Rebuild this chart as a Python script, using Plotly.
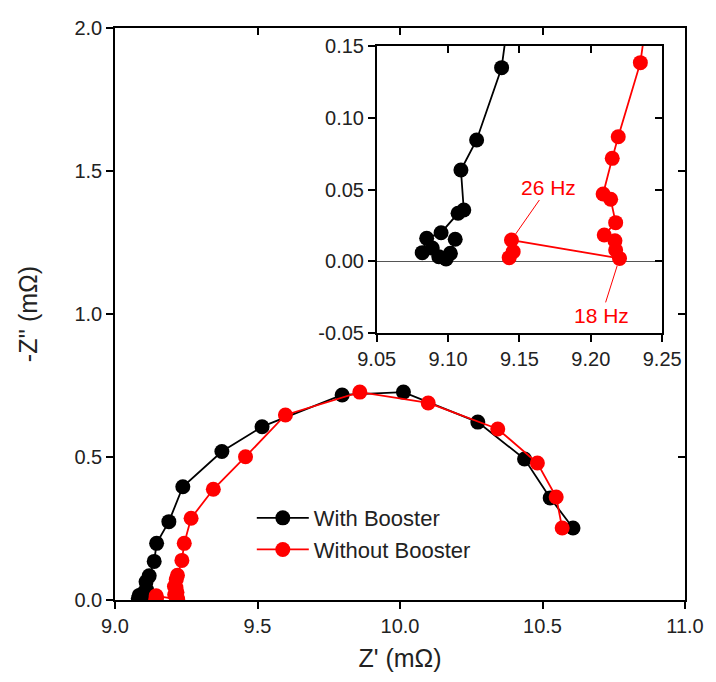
import plotly.graph_objects as go

# ---- data (Z' in mOhm, -Z'' in mOhm) ----
with_x = [9.105, 9.1016, 9.0986, 9.0935, 9.0889, 9.0819, 9.085, 9.0951, 9.107, 9.111,
          9.109, 9.120, 9.1375, 9.146, 9.189, 9.238, 9.375, 9.516, 9.797, 10.012,
          10.273, 10.437, 10.527, 10.607]
with_y = [0.0153, 0.0055, 0.0016, 0.0032, 0.0092, 0.006, 0.016, 0.0199, 0.0334, 0.0357,
          0.0636, 0.0845, 0.1349, 0.198, 0.274, 0.396, 0.519, 0.606, 0.717, 0.727,
          0.622, 0.493, 0.357, 0.252]

without_x = [9.1428, 9.1456, 9.1444, 9.2201, 9.2174, 9.2169, 9.2094, 9.2174, 9.2139, 9.2086,
             9.2150, 9.2192, 9.2347, 9.243, 9.267, 9.345, 9.458, 9.598, 9.859, 10.099,
             10.343, 10.482, 10.548, 10.569]
without_y = [0.0025, 0.0067, 0.0148, 0.002, 0.0078, 0.0143, 0.0183, 0.0269, 0.0432, 0.0469,
             0.0717, 0.0868, 0.1384, 0.198, 0.286, 0.387, 0.501, 0.647, 0.727, 0.689,
             0.598, 0.479, 0.360, 0.252]

series_names = ["With Booster", "Without Booster"]
series_colors = ["#000000", "#FF0000"]

main_xticks = [9.0, 9.5, 10.0, 10.5, 11.0]
main_xlabels = ["9.0", "9.5", "10.0", "10.5", "11.0"]
main_yticks = [0.0, 0.5, 1.0, 1.5, 2.0]
main_ylabels = ["0.0", "0.5", "1.0", "1.5", "2.0"]
inset_xticks = [9.05, 9.10, 9.15, 9.20, 9.25]
inset_xlabels = ["9.05", "9.10", "9.15", "9.20", "9.25"]
inset_yticks = [-0.05, 0.0, 0.05, 0.10, 0.15]
inset_ylabels = ["-0.05", "0.00", "0.05", "0.10", "0.15"]

# annotated points: 26 Hz and 18 Hz (indices in the "without" series)
ann_26 = 2
ann_18 = 3

FONT = "Arial, Liberation Sans, sans-serif"
TICKC = "#222222"
MS = 15

fig = go.Figure()
for xs, ys, name, col in [(with_x, with_y, series_names[0], series_colors[0]),
                          (without_x, without_y, series_names[1], series_colors[1])]:
    fig.add_trace(go.Scatter(x=xs, y=ys, name=name, mode="lines+markers",
                             line=dict(color=col, width=1.8),
                             marker=dict(color=col, size=MS),
                             xaxis="x", yaxis="y"))
for xs, ys, name, col in [(with_x, with_y, series_names[0], series_colors[0]),
                          (without_x, without_y, series_names[1], series_colors[1])]:
    fig.add_trace(go.Scatter(x=xs, y=ys, name=name, mode="lines+markers",
                             line=dict(color=col, width=1.8),
                             marker=dict(color=col, size=MS),
                             xaxis="x2", yaxis="y2", showlegend=False))
# empty traces for the mirrored (inward tick) axes
fig.add_trace(go.Scatter(x=[], y=[], xaxis="x3", yaxis="y3", showlegend=False, hoverinfo="skip"))
fig.add_trace(go.Scatter(x=[], y=[], xaxis="x4", yaxis="y4", showlegend=False, hoverinfo="skip"))

common = dict(showgrid=False, zeroline=False, showline=True, linecolor="black",
              linewidth=1.5, tickcolor="black", tickwidth=1.5, ticklen=7,
              tickfont=dict(family=FONT, size=20, color=TICKC))

L, R, T, B = 115, 26, 28, 82
W, H = 716, 682
pw, ph = W - L - R, H - T - B
ix0 = (379 - L) / pw
ix1 = (667 - L) / pw
iy0 = (H - B - 333) / ph
iy1 = (H - B - 46) / ph

fig.update_layout(
    width=W, height=H,
    margin=dict(l=L, r=R, t=T, b=B),
    paper_bgcolor="white", plot_bgcolor="white",
    font=dict(family=FONT, color=TICKC),
    xaxis=dict(domain=[0, 1], range=[9, 11], anchor="y", tickmode="array",
               tickvals=main_xticks, ticktext=main_xlabels, ticks="outside",
               title=dict(text="Z' (mΩ)", font=dict(family=FONT, size=25, color=TICKC), standoff=14),
               **common),
    yaxis=dict(domain=[0, 1], range=[0, 2], anchor="x", tickmode="array",
               tickvals=main_yticks, ticktext=main_ylabels, ticks="outside",
               title=dict(text="-Z'' (mΩ)", font=dict(family=FONT, size=25, color=TICKC), standoff=30),
               **common),
    xaxis3=dict(overlaying="x", side="top", anchor="y", range=[9, 11], tickmode="array",
                tickvals=main_xticks, ticks="inside", showticklabels=False, **common),
    yaxis3=dict(overlaying="y", side="right", anchor="x", range=[0, 2], tickmode="array",
                tickvals=main_yticks, ticks="inside", showticklabels=False, **common),
    xaxis2=dict(domain=[ix0, ix1], range=[9.05, 9.25], anchor="y2", tickmode="array",
                tickvals=inset_xticks, ticktext=inset_xlabels, ticks="outside", **common),
    yaxis2=dict(domain=[iy0, iy1], range=[-0.05, 0.15], anchor="x2", tickmode="array",
                tickvals=inset_yticks, ticktext=inset_ylabels, ticks="outside",
                **{**common, "zeroline": True}, zerolinecolor="#555555", zerolinewidth=1.2),
    xaxis4=dict(overlaying="x2", side="top", anchor="y2", range=[9.05, 9.25], tickmode="array",
                tickvals=inset_xticks, ticks="inside", showticklabels=False, **common),
    yaxis4=dict(overlaying="y2", side="right", anchor="x2", range=[-0.05, 0.15], tickmode="array",
                tickvals=inset_yticks, ticks="inside", showticklabels=False, **common),
    legend=dict(x=0.24, y=0.18, xanchor="left", yanchor="top",
                bgcolor="rgba(0,0,0,0)", font=dict(family=FONT, size=22, color=TICKC),
                tracegroupgap=0, itemwidth=52),
    showlegend=True,
)

fig.add_annotation(x=without_x[ann_26], y=without_y[ann_26], xref="x2", yref="y2",
                   text="26 Hz", showarrow=True, arrowhead=0, arrowwidth=1, arrowcolor="#FF0000",
                   ax=37, ay=-53, standoff=7,
                   font=dict(family=FONT, size=21, color="#FF0000"))
fig.add_annotation(x=without_x[ann_18], y=without_y[ann_18], xref="x2", yref="y2",
                   text="18 Hz", showarrow=True, arrowhead=0, arrowwidth=1, arrowcolor="#FF0000",
                   ax=-18, ay=57, standoff=8,
                   font=dict(family=FONT, size=21, color="#FF0000"))

fig.write_html("out.html")
